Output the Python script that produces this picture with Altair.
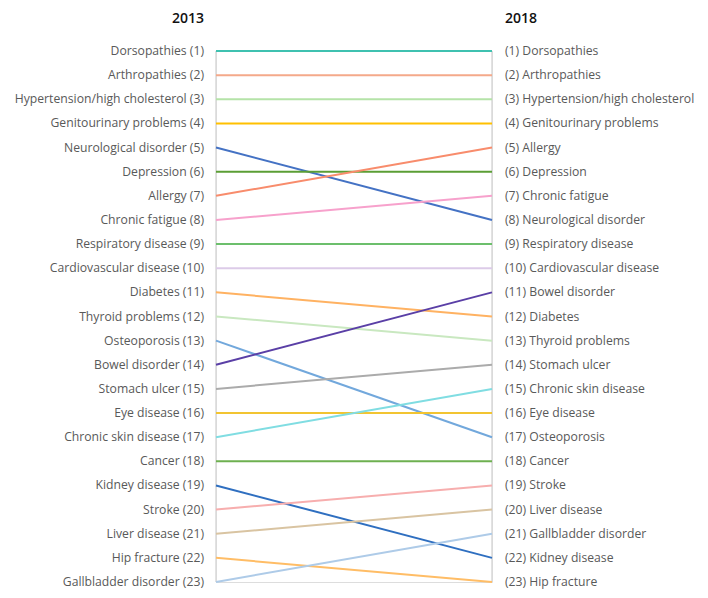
import altair as alt
import pandas as pd

diseases = [
    "Dorsopathies", "Arthropathies", "Hypertension/high cholesterol",
    "Genitourinary problems", "Neurological disorder", "Depression", "Allergy",
    "Chronic fatigue", "Respiratory disease", "Cardiovascular disease",
    "Diabetes", "Thyroid problems", "Osteoporosis", "Bowel disorder",
    "Stomach ulcer", "Eye disease", "Chronic skin disease", "Cancer",
    "Kidney disease", "Stroke", "Liver disease", "Hip fracture",
    "Gallbladder disorder",
]
rank_2013 = [1, 2, 3, 4, 5, 6, 7, 8, 9, 10, 11, 12, 13, 14, 15, 16, 17, 18, 19, 20, 21, 22, 23]
rank_2018 = [1, 2, 3, 4, 8, 6, 5, 7, 9, 10, 12, 13, 17, 11, 14, 16, 15, 18, 22, 19, 20, 23, 21]
colors = [
    "#3fc1b0", "#f4a98a", "#b5e3a8", "#ffc000", "#4472c4", "#5b9e35",
    "#f88c6c", "#f7a1cc", "#6cbf6c", "#dccbe8", "#ffb262", "#c9e8c0",
    "#72a8dc", "#5a3fa6", "#ababab", "#f2c431", "#80dde2", "#6eb050",
    "#2f6fc0", "#f7aeae", "#d9c4a2", "#ffbd66", "#aecbe8",
]
years = ["2013", "2018"]

rows = []
for d, r1, r2 in zip(diseases, rank_2013, rank_2018):
    rows.append({"disease": d, "year": years[0], "rank": r1,
                 "label": f"{d} ({r1})"})
    rows.append({"disease": d, "year": years[1], "rank": r2,
                 "label": f"({r2}) {d}"})
df = pd.DataFrame(rows)
axes_df = pd.DataFrame({"year": years, "r1": [1, 1], "r2": [23, 23]})
title_df = pd.DataFrame({"year": years})

FONT = "Open Sans"
LABEL_SIZE = 12.2
x_enc = alt.X("year:N", scale=alt.Scale(type="point", padding=0, domain=years), axis=None)
y_scale = alt.Scale(domain=[1, 23], reverse=True, nice=False, zero=False)

axis_lines = alt.Chart(axes_df).mark_rule(color="#d9d9d9", strokeWidth=1.5).encode(
    x=x_enc,
    y=alt.Y("r1:Q", scale=y_scale, axis=None),
    y2="r2:Q",
)

lines = alt.Chart(df).mark_line(strokeWidth=2).encode(
    x=x_enc,
    y=alt.Y("rank:Q", scale=y_scale, axis=None),
    detail="disease:N",
    color=alt.Color("disease:N", scale=alt.Scale(domain=diseases, range=colors), legend=None),
)

left_labels = alt.Chart(df).transform_filter(alt.datum.year == "2013").mark_text(
    align="right", baseline="middle", dx=-12, font=FONT, fontSize=LABEL_SIZE, color="#595959"
).encode(x=x_enc, y=alt.Y("rank:Q", scale=y_scale, axis=None), text="label:N")

right_labels = alt.Chart(df).transform_filter(alt.datum.year == "2018").mark_text(
    align="left", baseline="middle", dx=13, font=FONT, fontSize=LABEL_SIZE, color="#595959"
).encode(x=x_enc, y=alt.Y("rank:Q", scale=y_scale, axis=None), text="label:N")

title_left = alt.Chart(title_df).transform_filter(alt.datum.year == "2013").mark_text(
    align="right", baseline="top", dx=-12, font=FONT, fontSize=14, fontWeight=600, color="#111111"
).encode(x=x_enc, y=alt.value(-39), text="year:N")
title_right = alt.Chart(title_df).transform_filter(alt.datum.year == "2018").mark_text(
    align="left", baseline="top", dx=13, font=FONT, fontSize=14, fontWeight=600, color="#111111"
).encode(x=x_enc, y=alt.value(-39), text="year:N")

chart = alt.layer(axis_lines, lines, left_labels, right_labels, title_left, title_right).properties(
    width=276,
    height=531,
    autosize=alt.AutoSizeParams(type="none"),
    padding={"left": 208, "top": 43, "right": 208, "bottom": 8},
).configure_view(stroke=None).configure(background="#ffffff")

chart.save("out.html", embed_options={"renderer": "svg", "actions": False})
